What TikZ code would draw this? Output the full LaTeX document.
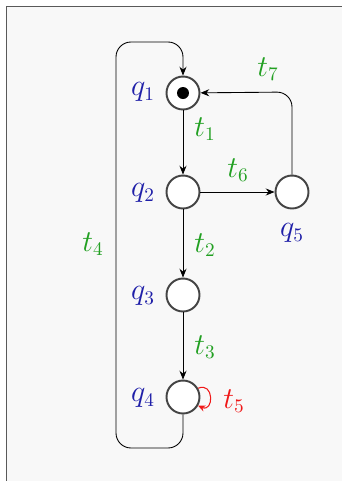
\documentclass[tikz,border=0pt]{standalone}
\usepackage{amsmath,amssymb}
\usetikzlibrary{arrows.meta,positioning,calc}
\definecolor{pBlue}{HTML}{1F1FA8}
\definecolor{pGreen}{HTML}{22A022}
\definecolor{pRed}{HTML}{F01818}
\definecolor{pEdge}{HTML}{444444}
\definecolor{pBack}{HTML}{F8F8F8}
\tikzset{
  place/.style  = {circle, draw=pEdge, fill=white, line width=1.1pt,
                   minimum size=0.66cm, inner sep=0pt},
  token/.style  = {circle, fill=black, minimum size=0.24cm, inner sep=0pt},
  ar/.style     = {-{Stealth[length=5pt,width=4pt]}, draw=black, line width=0.5pt,
                   rounded corners=0.3cm},
  arr/.style    = {-{Stealth[length=4pt,width=3.5pt]}, draw=pRed, line width=0.6pt},
  plbl/.style   = {font=\fontsize{16}{19}\selectfont, text=pBlue},
  tlbl/.style   = {font=\fontsize{16}{19}\selectfont, text=pGreen},
}
\begin{document}
\begin{tikzpicture}[x=0.02cm, y=-0.02cm]
  \useasboundingbox (0,0) rectangle (342,481);
  \fill[white] (0,0) rectangle (342,481);
  \fill[pBack] (6.5,6.5) rectangle (350,490);
  \draw[draw=black!65, line width=0.6pt] (6.5,490) -- (6.5,6.5) -- (350,6.5);
  % places
  \node[place] (q1) at (183,93) {};
  \node[token] (tok) at (q1) {};
  \node[place] (q2) at (183,192) {};
  \node[place] (q3) at (183,295) {};
  \node[place] (q4) at (183,397) {};
  \node[place] (q5) at (292,192) {};
  % corners of the long arcs
  \coordinate (c7) at (292,92);
  \coordinate (c4a) at (183,448);
  \coordinate (c4b) at (116,448);
  \coordinate (c4c) at (116,42);
  \coordinate (c4d) at (183,42);
  % transitions
  \draw[ar] (q1) -- (q2);
  \draw[ar] (q2) -- (q3);
  \draw[ar] (q3) -- (q4);
  \draw[ar] (q2) -- (q5);
  \draw[ar] (q5) -- (c7) -- (q1);
  \draw[ar] (q4) -- (c4a) -- (c4b) -- (c4c) -- (c4d) -- (q1);
  \draw[arr] (q4.30) .. controls +(16,-7) and +(16,7) .. (q4.-30);
  % labels
  \node[plbl] (l1) at (143,92) {$q_1$};
  \node[plbl] (l2) at (143,193) {$q_2$};
  \node[plbl] (l3) at (143,296) {$q_3$};
  \node[plbl] (l4) at (143,398) {$q_4$};
  \node[plbl] (l5) at (292,233) {$q_5$};
  \node[tlbl] (t1) at (205,129) {$t_1$};
  \node[tlbl] (t2) at (205,245) {$t_2$};
  \node[tlbl] (t3) at (205,347) {$t_3$};
  \node[tlbl] (t4) at (93,244) {$t_4$};
  \node[tlbl, text=pRed] (t5) at (234,401) {$t_5$};
  \node[tlbl] (t6) at (238,170) {$t_6$};
  \node[tlbl] (t7) at (268,69) {$t_7$};
\end{tikzpicture}
\end{document}
